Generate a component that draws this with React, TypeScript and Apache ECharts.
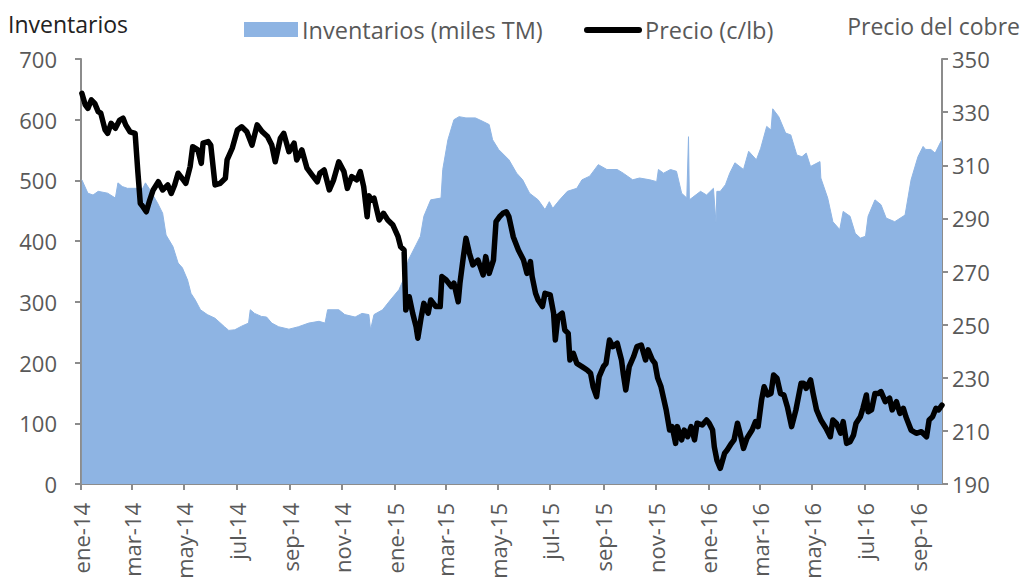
import React, { useEffect, useRef } from "react";
import * as echarts from "echarts";

// Inventories (thousand tonnes) — left axis
const invDates = [
  "2014-01-02","2014-01-09","2014-01-15","2014-01-21","2014-02-01","2014-02-10","2014-02-13","2014-02-18","2014-02-24","2014-03-06",
  "2014-03-14","2014-03-17","2014-03-22","2014-03-31","2014-04-06","2014-04-10","2014-04-18","2014-04-24","2014-04-29","2014-05-05",
  "2014-05-09","2014-05-14","2014-05-20","2014-05-28","2014-06-06","2014-06-17","2014-06-22","2014-06-29","2014-07-07","2014-07-15",
  "2014-07-17","2014-07-22","2014-07-30","2014-08-05","2014-08-11","2014-08-19","2014-08-31","2014-09-11","2014-09-23","2014-10-05",
  "2014-10-12","2014-10-15","2014-10-28","2014-11-04","2014-11-16","2014-11-24","2014-12-02","2014-12-04","2014-12-08","2014-12-18",
  "2014-12-27","2015-01-06","2015-01-12","2015-01-17","2015-01-26","2015-01-31","2015-02-04","2015-02-12","2015-02-24","2015-02-26",
  "2015-03-04","2015-03-11","2015-03-17","2015-03-25","2015-04-05","2015-04-14","2015-04-21","2015-04-25","2015-05-02","2015-05-14",
  "2015-05-23","2015-05-30","2015-06-07","2015-06-17","2015-06-25","2015-06-30","2015-07-04","2015-07-12","2015-07-21","2015-08-01",
  "2015-08-07","2015-08-16","2015-08-26","2015-09-05","2015-09-17","2015-09-24","2015-10-05","2015-10-13","2015-10-25","2015-11-02",
  "2015-11-04","2015-11-10","2015-11-18","2015-11-25","2015-12-01","2015-12-07","2015-12-09","2015-12-10","2015-12-23","2015-12-30",
  "2016-01-07","2016-01-10","2016-01-11","2016-01-15","2016-01-21","2016-01-26","2016-02-01","2016-02-11","2016-02-17","2016-02-26",
  "2016-03-02","2016-03-09","2016-03-14","2016-03-16","2016-03-23","2016-03-31","2016-04-06","2016-04-13","2016-04-19","2016-04-24",
  "2016-04-29","2016-05-10","2016-05-11","2016-05-19","2016-05-25","2016-06-02","2016-06-06","2016-06-14","2016-06-20","2016-06-26",
  "2016-07-02","2016-07-05","2016-07-13","2016-07-20","2016-07-26","2016-08-05","2016-08-17","2016-08-24","2016-09-01","2016-09-07",
  "2016-09-10","2016-09-16","2016-09-21","2016-09-27","2016-09-29",
];
const invValues = [
  501, 479, 476, 482, 479, 471, 496, 490, 487, 487,
  487, 496, 485, 463, 446, 410, 391, 364, 356, 336,
  314, 303, 287, 279, 273, 259, 253, 254, 260, 265,
  287, 281, 276, 275, 265, 259, 255, 259, 265, 268,
  265, 287, 287, 279, 275, 281, 279, 254, 279, 287,
  303, 320, 339, 369, 394, 408, 441, 468, 471, 518,
  567, 600, 605, 603, 603, 597, 592, 567, 551, 534,
  512, 501, 479, 468, 452, 465, 454, 468, 482, 487,
  501, 507, 526, 518, 518, 512, 501, 504, 501, 498,
  518, 512, 518, 515, 479, 471, 572, 468, 482, 476,
  487, 430, 482, 482, 493, 512, 529, 518, 548, 534,
  553, 589, 583, 618, 605, 578, 575, 542, 539, 545,
  523, 531, 504, 471, 432, 419, 449, 441, 413, 405,
  408, 441, 468, 460, 438, 432, 443, 501, 539, 556,
  551, 551, 545, 562, 567,
];

// Copper price (US cents per pound) — right axis
const priceDates = [
  "2014-01-02","2014-01-06","2014-01-09","2014-01-13","2014-01-17","2014-01-21","2014-01-24","2014-01-29","2014-02-01","2014-02-05",
  "2014-02-10","2014-02-15","2014-02-19","2014-02-22","2014-02-27","2014-03-05","2014-03-08","2014-03-11","2014-03-14","2014-03-18",
  "2014-03-22","2014-03-26","2014-04-01","2014-04-06","2014-04-12","2014-04-16","2014-04-20","2014-04-24","2014-04-30","2014-05-03",
  "2014-05-08","2014-05-11","2014-05-17","2014-05-21","2014-05-23","2014-05-29","2014-06-01","2014-06-06","2014-06-12","2014-06-18",
  "2014-06-20","2014-06-26","2014-07-02","2014-07-07","2014-07-13","2014-07-19","2014-07-25","2014-07-31","2014-08-06","2014-08-11",
  "2014-08-15","2014-08-21","2014-08-25","2014-08-31","2014-09-06","2014-09-09","2014-09-15","2014-09-21","2014-09-27","2014-10-03",
  "2014-10-06","2014-10-11","2014-10-17","2014-10-22","2014-10-28","2014-11-03","2014-11-07","2014-11-12","2014-11-18","2014-11-22",
  "2014-11-26","2014-11-30","2014-12-02","2014-12-05","2014-12-08","2014-12-14","2014-12-19","2014-12-24","2014-12-30","2015-01-05",
  "2015-01-08","2015-01-12","2015-01-14","2015-01-18","2015-01-22","2015-01-26","2015-01-28","2015-02-01","2015-02-04","2015-02-09",
  "2015-02-12","2015-02-18","2015-02-23","2015-02-25","2015-03-02","2015-03-08","2015-03-11","2015-03-16","2015-03-18","2015-03-22",
  "2015-03-25","2015-03-29","2015-04-02","2015-04-08","2015-04-12","2015-04-14","2015-04-17","2015-04-21","2015-04-26","2015-04-29",
  "2015-05-03","2015-05-07","2015-05-11","2015-05-14","2015-05-19","2015-05-25","2015-05-31","2015-06-04","2015-06-08","2015-06-10",
  "2015-06-14","2015-06-17","2015-06-22","2015-06-25","2015-07-01","2015-07-05","2015-07-07","2015-07-10","2015-07-15","2015-07-18",
  "2015-07-22","2015-07-24","2015-07-28","2015-08-01","2015-08-07","2015-08-13","2015-08-17","2015-08-20","2015-08-24","2015-08-27",
  "2015-09-01","2015-09-04","2015-09-08","2015-09-12","2015-09-17","2015-09-22","2015-09-24","2015-09-27","2015-10-01","2015-10-06",
  "2015-10-10","2015-10-15","2015-10-20","2015-10-23","2015-10-28","2015-10-31","2015-11-03","2015-11-07","2015-11-13","2015-11-17",
  "2015-11-20","2015-11-24","2015-11-26","2015-12-01","2015-12-04","2015-12-08","2015-12-12","2015-12-16","2015-12-19","2015-12-25",
  "2015-12-30","2016-01-02","2016-01-06","2016-01-08","2016-01-11","2016-01-15","2016-01-20","2016-01-23","2016-01-28","2016-01-31",
  "2016-02-04","2016-02-07","2016-02-11","2016-02-15","2016-02-21","2016-02-25","2016-02-28","2016-03-03","2016-03-06","2016-03-10",
  "2016-03-14","2016-03-17","2016-03-21","2016-03-25","2016-03-29","2016-04-02","2016-04-07","2016-04-12","2016-04-18","2016-04-21",
  "2016-04-24","2016-04-29","2016-05-02","2016-05-06","2016-05-11","2016-05-17","2016-05-22","2016-05-25","2016-05-29","2016-06-03",
  "2016-06-06","2016-06-10","2016-06-14","2016-06-18","2016-06-21","2016-06-26","2016-06-29","2016-07-03","2016-07-05","2016-07-09",
  "2016-07-13","2016-07-17","2016-07-20","2016-07-25","2016-07-30","2016-08-02","2016-08-07","2016-08-11","2016-08-15","2016-08-18",
  "2016-08-24","2016-08-30","2016-09-05","2016-09-11","2016-09-14","2016-09-18","2016-09-22","2016-09-25","2016-09-29",
];
const priceValues = [
  337.1, 332.7, 331.4, 334.6, 333.3, 330.2, 329.6, 323.3, 322.0, 325.8,
  323.9, 327.0, 327.7, 325.2, 322.6, 322.0, 308.2, 295.7, 294.4, 292.5,
  296.9, 300.7, 303.8, 300.7, 302.6, 299.4, 302.6, 307.0, 304.5, 303.2,
  309.5, 317.0, 315.8, 310.7, 318.3, 318.9, 317.6, 302.6, 303.2, 305.1,
  312.0, 316.4, 323.3, 324.5, 322.6, 317.6, 325.2, 322.6, 320.8, 317.6,
  311.3, 320.1, 322.0, 315.1, 318.3, 312.0, 315.8, 308.9, 306.3, 303.8,
  307.0, 308.2, 300.7, 304.5, 311.3, 307.6, 301.3, 305.7, 304.5, 307.6,
  301.9, 290.6, 298.5, 296.9, 297.6, 289.4, 291.9, 289.4, 287.5, 283.1,
  279.3, 278.1, 255.5, 260.5, 254.3, 249.2, 244.9, 253.0, 258.0, 254.3,
  259.3, 256.8, 256.8, 268.1, 266.8, 264.3, 265.6, 258.6, 265.6, 275.6,
  282.5, 276.9, 272.5, 274.3, 270.6, 268.7, 275.6, 269.3, 274.3, 288.8,
  290.6, 291.9, 292.5, 290.6, 283.1, 278.1, 274.3, 269.3, 273.7, 268.1,
  261.8, 259.3, 256.8, 261.8, 261.2, 254.3, 244.2, 253.0, 254.3, 248.0,
  246.7, 236.7, 239.2, 235.4, 234.2, 232.9, 231.7, 226.6, 222.9, 230.4,
  234.2, 235.4, 244.2, 241.7, 243.0, 236.7, 231.7, 225.4, 234.2, 237.9,
  241.7, 242.3, 236.7, 240.5, 236.7, 235.4, 230.0, 226.6, 217.9, 210.3,
  211.6, 205.3, 211.6, 206.6, 210.3, 207.8, 211.6, 206.6, 212.9, 212.2,
  214.1, 212.9, 210.3, 204.0, 199.0, 195.9, 201.6, 202.8, 205.3, 206.6,
  212.9, 209.1, 203.4, 207.2, 210.3, 213.5, 211.6, 221.6, 226.6, 223.5,
  224.1, 231.0, 229.8, 224.1, 223.5, 219.1, 211.6, 217.9, 227.9, 227.9,
  226.0, 229.2, 224.1, 217.9, 214.1, 211.0, 207.8, 214.1, 212.9, 209.1,
  213.5, 205.3, 205.9, 208.4, 212.9, 215.3, 218.5, 223.5, 217.2, 217.9,
  224.1, 224.1, 224.8, 221.0, 222.3, 217.9, 221.0, 216.6, 218.5, 215.3,
  210.3, 209.1, 209.7, 207.8, 214.1, 215.3, 218.5, 217.9, 219.7,
];

// Month starts that carry a tick and label on the time axis
const tickDates = [
  "2014-01-01","2014-03-01","2014-05-01","2014-07-01","2014-09-01","2014-11-01",
  "2015-01-01","2015-03-01","2015-05-01","2015-07-01","2015-09-01","2015-11-01",
  "2016-01-01","2016-03-01","2016-05-01","2016-07-01","2016-09-01",
];
const axisStart = "2014-01-01";
const axisEnd = "2016-09-29";
const monthNames = ["ene","feb","mar","abr","may","jun","jul","ago","sep","oct","nov","dic"];

const leftTicks = { min: 0, max: 700, interval: 100 };
const rightTicks = { min: 190, max: 350, interval: 20 };

const DAY = 86400000;
const toUTC = (s: string) => {
  const [y, m, d] = s.split("-").map(Number);
  return Date.UTC(y, m - 1, d);
};
const START = toUTC(axisStart);
const dayOf = (s: string) => Math.round((toUTC(s) - START) / DAY);
const labelOf = (v: number) => {
  const dt = new Date(START + Math.round(v) * DAY);
  return monthNames[dt.getUTCMonth()] + "-" + String(dt.getUTCFullYear()).slice(2);
};

const AREA = "#8EB4E3";
const GREY_TEXT = "#595959";
const AXIS_LINE = "#8C8C8C";
const FONT = "'Open Sans', 'Noto Sans', sans-serif";

export default function App() {
  const ref = useRef<HTMLDivElement>(null);

  useEffect(() => {
    document.body.style.margin = "0";
    if (!ref.current) return;
    const chart = echarts.init(ref.current, undefined, { renderer: "svg" });

    const invData = invDates.map((d, i) => [dayOf(d), invValues[i]]);
    const priceData = priceDates.map((d, i) => [dayOf(d), priceValues[i]]);
    const ticks = tickDates.map(dayOf);

    const yLabel = { color: GREY_TEXT, fontSize: 22, fontFamily: FONT };

    chart.setOption({
      animation: false,
      backgroundColor: "#ffffff",
      textStyle: { fontFamily: FONT },
      grid: {
        left: 81,
        right: 83,
        top: 59,
        bottom: 94,
        containLabel: false,
        outerBoundsMode: "none",
      },
      xAxis: {
        type: "value",
        min: 0,
        max: dayOf(axisEnd),
        axisLine: { show: true, onZero: false, lineStyle: { color: AXIS_LINE, width: 2 } },
        axisTick: { show: true, customValues: ticks, length: 6, lineStyle: { color: AXIS_LINE, width: 2 } },
        axisLabel: {
          customValues: ticks,
          rotate: 90,
          margin: 19,
          color: GREY_TEXT,
          fontSize: 22,
          fontFamily: FONT,
          formatter: (v: number) => labelOf(v),
        },
        splitLine: { show: false },
      },
      yAxis: [
        {
          type: "value",
          position: "left",
          ...leftTicks,
          axisLine: { show: true, lineStyle: { color: AXIS_LINE, width: 2 } },
          axisTick: { show: true, length: 6, lineStyle: { color: AXIS_LINE, width: 2 } },
          axisLabel: { ...yLabel, margin: 24 },
          splitLine: { show: false },
        },
        {
          type: "value",
          position: "right",
          ...rightTicks,
          axisLine: { show: true, lineStyle: { color: AXIS_LINE, width: 2 } },
          axisTick: { show: true, length: 6, lineStyle: { color: AXIS_LINE, width: 2 } },
          axisLabel: { ...yLabel, margin: 10 },
          splitLine: { show: false },
        },
      ],
      series: [
        {
          name: "Inventarios (miles TM)",
          type: "line",
          yAxisIndex: 0,
          data: invData,
          showSymbol: false,
          symbol: "none",
          lineStyle: { width: 1, color: AREA },
          itemStyle: { color: AREA },
          areaStyle: { color: AREA, opacity: 1 },
          z: 1,
        },
        {
          name: "Precio (c/lb)",
          type: "line",
          yAxisIndex: 1,
          data: priceData,
          showSymbol: false,
          symbol: "none",
          lineStyle: { width: 5.5, color: "#000000", join: "round", cap: "round" },
          itemStyle: { color: "#000000" },
          z: 3,
        },
      ],
      graphic: [
        {
          type: "text",
          left: 8,
          top: 12,
          style: { text: "Inventarios", fill: "#222222", fontSize: 23, fontFamily: FONT },
        },
        {
          type: "text",
          right: 5,
          top: 14,
          style: { text: "Precio del cobre", fill: GREY_TEXT, fontSize: 23, fontFamily: FONT },
        },
        {
          type: "rect",
          shape: { x: 244, y: 22, width: 54, height: 15 },
          style: { fill: AREA },
        },
        {
          type: "text",
          x: 302,
          y: 30,
          style: {
            text: "Inventarios (miles TM)",
            fill: GREY_TEXT,
            fontSize: 23.5,
            fontFamily: FONT,
            verticalAlign: "middle",
          },
        },
        {
          type: "line",
          shape: { x1: 587, y1: 30, x2: 639, y2: 30 },
          style: { stroke: "#000000", lineWidth: 6, lineCap: "round" },
        },
        {
          type: "text",
          x: 645,
          y: 30,
          style: {
            text: "Precio (c/lb)",
            fill: GREY_TEXT,
            fontSize: 23.5,
            fontFamily: FONT,
            verticalAlign: "middle",
          },
        },
      ],
    });

    return () => chart.dispose();
  }, []);

  return <div ref={ref} style={{ width: 1025, height: 578 }} />;
}
